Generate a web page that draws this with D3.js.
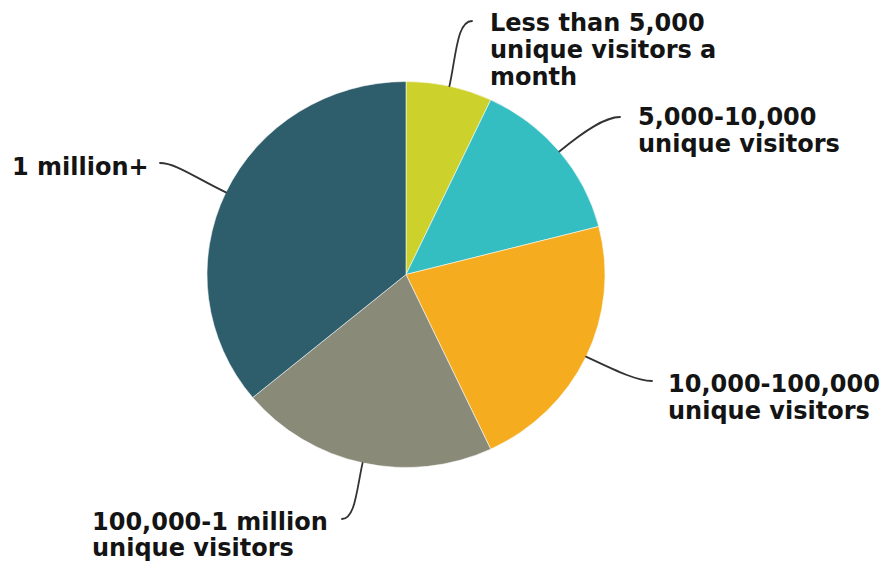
<!DOCTYPE html>
<html>
<head>
<meta charset="utf-8">
<script src="https://cdn.jsdelivr.net/npm/d3@7"></script>
<style>
  html, body { margin: 0; padding: 0; background: #fff; }
  svg { display: block; }
</style>
</head>
<body>
<svg id="chart" width="886" height="563"></svg>
<script>
// Share of sites by monthly unique visitors (percent)
const categories = [
  ["Less than 5,000", "unique visitors a", "month"],
  ["5,000-10,000", "unique visitors"],
  ["10,000-100,000", "unique visitors"],
  ["100,000-1 million", "unique visitors"],
  ["1 million+"]
];
const values = [7, 14, 22, 21, 36];
const colors = ["#cdd12b", "#35bec1", "#f5ac1f", "#8a8a79", "#2e5e6b"];

// label layout: text anchor x, first baseline, side of the pie, leader end point
const labelX = [490, 638, 668, 92, 12];
const labelY = [31, 125, 392, 530, 175];
const labelSide = [1, 1, 1, -1, -1];
const leaderEnd = [[472, 21], [620, 117], [652, 381], [342, 519], [160, 163]];

const cx = 406, cy = 274.5, rx = 199, ry = 193;
const lineHeight = 27;

const svg = d3.select("#chart");

const pie = d3.pie().sort(null).value(d => d)(values);
const arc = d3.arc().innerRadius(0).outerRadius(rx);

// pie, slightly flattened vertically
const g = svg.append("g")
  .attr("transform", `translate(${cx},${cy}) scale(1,${ry / rx})`);

g.selectAll("path")
  .data(pie)
  .join("path")
  .attr("d", arc)
  .attr("fill", (d, i) => colors[i])
  .attr("stroke", "#ffffff")
  .attr("stroke-opacity", 0.55)
  .attr("stroke-width", 1)
  .attr("vector-effect", "non-scaling-stroke");

// leader lines from the rim at each slice's mid angle to its label
const leaders = svg.append("g")
  .attr("fill", "none")
  .attr("stroke", "#333333")
  .attr("stroke-width", 1.8)
  .attr("stroke-linecap", "round");

pie.forEach((d, i) => {
  const a = (d.startAngle + d.endAngle) / 2;
  const sx = cx + rx * Math.sin(a), sy = cy - ry * Math.cos(a);
  const ux = Math.sin(a), uy = -Math.cos(a);
  const [ex, ey] = leaderEnd[i];
  const dist = Math.hypot(ex - sx, ey - sy);
  const c1 = [sx + ux * dist * 0.45, sy + uy * dist * 0.45];
  const c2 = [ex - labelSide[i] * dist * 0.22, ey];
  const p = d3.path();
  p.moveTo(sx, sy);
  p.bezierCurveTo(c1[0], c1[1], c2[0], c2[1], ex, ey);
  leaders.append("path").attr("d", p.toString());
});

// labels
const labels = svg.append("g")
  .attr("font-family", "'DejaVu Sans', sans-serif")
  .attr("font-weight", "bold")
  .attr("font-size", 24)
  .attr("fill", "#141414");

categories.forEach((lines, i) => {
  const t = labels.append("text")
    .attr("x", labelX[i])
    .attr("y", labelY[i]);
  lines.forEach((line, j) => {
    t.append("tspan")
      .attr("x", labelX[i])
      .attr("y", labelY[i] + j * (i === 3 ? 26 : lineHeight))
      .text(line);
  });
});
</script>
</body>
</html>
